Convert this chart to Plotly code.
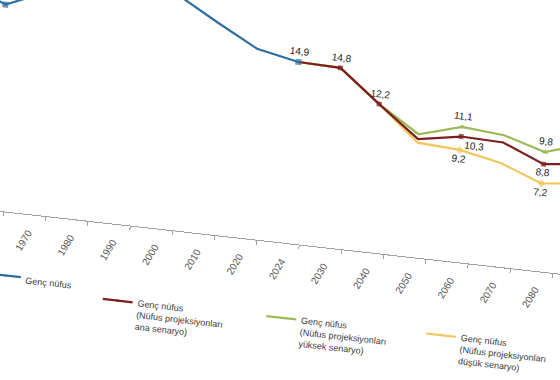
import plotly.graph_objects as go

# ---------------- data ----------------
years = ["1950", "1960", "1970", "1980", "1990", "2000", "2010", "2020", "2024",
         "2030", "2040", "2050", "2060", "2070", "2080", "2090"]
label_years = ["1970", "1980", "1990", "2000", "2010", "2020", "2024",
               "2030", "2040", "2050", "2060", "2070", "2080", "2090"]

hist_years = ["1950", "1960", "1970", "1980", "1990", "2000", "2010", "2020", "2024"]
hist_values = [18.4, 16.9, 18.4, 19.6, 20.4, 19.3, 17.4, 15.6, 14.9]

proj_years = ["2024", "2030", "2040", "2050", "2060", "2070", "2080", "2090"]
main_values = [14.9, 14.8, 12.2, 9.7, 10.3, 10.2, 8.8, 9.2]
high_values = [14.9, 14.8, 12.2, 10.1, 11.1, 10.8, 9.8, 10.9]
low_values = [14.9, 14.8, 12.2, 9.4, 9.2, 8.5, 7.2, 7.6]

series_names = [
    "Genç nüfus",
    "Genç nüfus<br>(Nüfus projeksiyonları<br>ana senaryo)",
    "Genç nüfus<br>(Nüfus projeksiyonları<br>yüksek senaryo)",
    "Genç nüfus<br>(Nüfus projeksiyonları<br>düşük senaryo)",
]

# ---------------- styles ----------------
FONT = "Arial, Liberation Sans, sans-serif"
LABEL_FONT = "Liberation Sans Narrow, Arial Narrow, Arial, sans-serif"
C_BLUE, C_RED, C_GREEN, C_YELLOW = "#2F6E9F", "#7A1E1E", "#9BBB59", "#EFC75E"

pos = {y: i for i, y in enumerate(years)}


def fmt(v):
    return f"{v:.1f}".replace(".", ",")


def make_trace(yrs, vals, name, color, symbol, msize, labels, marker_only, legend, width=2.2):
    xs = [pos[y] for y in yrs]
    texts = [fmt(v) if y in labels else "" for y, v in zip(yrs, vals)]
    tpos = [labels.get(y, "top center") for y in yrs]
    sizes = [msize if (y in labels or y in marker_only) else 0 for y in yrs]
    return go.Scatter(
        x=xs, y=vals, name=name, mode="lines+markers+text",
        line=dict(color=color, width=width),
        marker=dict(color=color, size=sizes, symbol=symbol, line=dict(width=0)),
        text=texts, textposition=tpos,
        textfont=dict(family=LABEL_FONT, size=10, color="#1a1a1a"),
        legend=legend, cliponaxis=False,
    )


fig = go.Figure()
fig.add_trace(make_trace(proj_years, high_values, series_names[2], C_GREEN, "triangle-up", 6,
                         {"2060": "top center", "2080": "top center"}, set(), "legend3"))
fig.add_trace(make_trace(proj_years, low_values, series_names[3], C_YELLOW, "diamond", 6,
                         {"2060": "bottom center", "2080": "bottom center"}, set(), "legend4"))
fig.add_trace(make_trace(proj_years, main_values, series_names[1], C_RED, "square", 5,
                         {"2030": "top center", "2040": "top center", "2060": "bottom right",
                          "2080": "bottom center"}, set(), "legend2"))
fig.add_trace(make_trace(hist_years, hist_values, series_names[0], C_BLUE, "square", 6,
                         {"2024": "top center"}, {"1960"}, "legend"))

W, H = 640, 480
AXIS_Y = 292  # px from top of figure where x axis sits
SPACING = 42.5
X0 = -16.0   # pixel position of index 0

legend_common = dict(orientation="v", bgcolor="rgba(0,0,0,0)", borderwidth=0,
                     font=dict(family=FONT, size=9, color="#3a3a3a"),
                     valign="top", itemwidth=30, xanchor="left", yanchor="top",
                     tracegroupgap=0)

fig.update_layout(
    width=W, height=H,
    margin=dict(l=0, r=0, t=0, b=0),
    paper_bgcolor="white", plot_bgcolor="white",
    font=dict(family=FONT),
    showlegend=True,
    legend=dict(x=0.058, y=0.285, **legend_common),
    legend2=dict(x=0.236, y=0.259, **legend_common),
    legend3=dict(x=0.493, y=0.2615, **legend_common),
    legend4=dict(x=0.744, y=0.2626, **legend_common),
    xaxis=dict(
        domain=[0, 1],
        range=[(0 - X0) / SPACING, (W - X0) / SPACING],
        tickmode="array",
        tickvals=[pos[y] + 0.12 for y in label_years],
        ticktext=label_years,
        tickangle=-65,
        tickfont=dict(family=FONT, size=10, color="#555555"),
        ticklabelstandoff=8,
        ticks="", showgrid=False, zeroline=False,
        showline=True, linecolor="#a0a0a0", linewidth=1,
        minor=dict(tickmode="linear", tick0=-0.5, dtick=1, ticks="outside",
                   ticklen=4, tickcolor="#a0a0a0", tickwidth=1, showgrid=False),
    ),
    yaxis=dict(
        domain=[1 - AXIS_Y / H, 1],
        range=[0, 24],
        visible=False, showgrid=False, zeroline=False,
    ),
)

post_js = """
var gd = document.getElementById('{plot_id}');
document.documentElement.style.overflow = 'hidden';
document.body.style.margin = '0';
document.body.style.overflow = 'hidden';
gd.style.position = 'absolute';
gd.style.left = '-40px';
gd.style.top = '-50px';
gd.style.transformOrigin = '320px 240px';
gd.style.transform = 'rotate(6.4deg)';
"""

fig.write_html("out.html", post_script=post_js, config={"displayModeBar": False})
